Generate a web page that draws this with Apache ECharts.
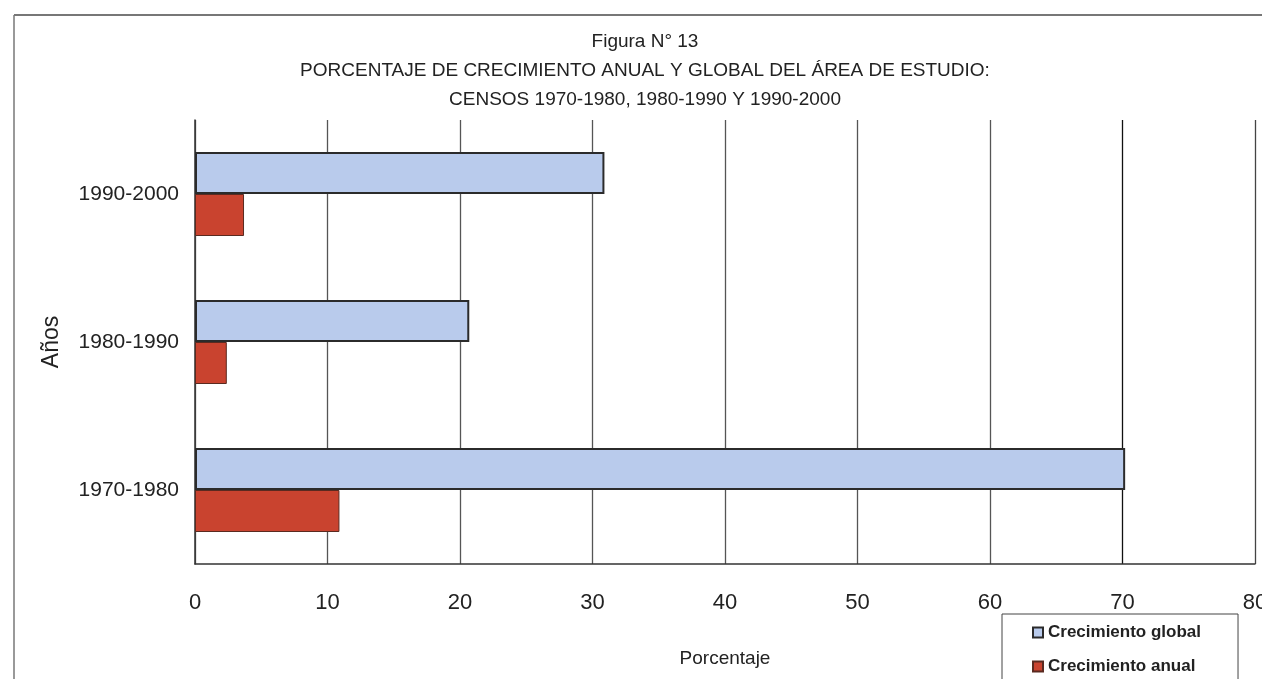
<!DOCTYPE html>
<html><head><meta charset="utf-8">
<script src="https://cdn.jsdelivr.net/npm/echarts@6/dist/echarts.min.js"></script>
<style>html,body{margin:0;padding:0;background:#fff;overflow:hidden}#c{width:1262px;height:679px}</style>
</head><body><div id="c"></div>
<script>
const categories = ['1970-1980', '1980-1990', '1990-2000'];
const crecimientoGlobal = [70.2, 20.7, 30.9];
const crecimientoAnual = [10.9, 2.4, 3.7];
const xTicks = [0, 10, 20, 30, 40, 50, 60, 70, 80];

const FONT = '"Liberation Sans", Arial, sans-serif';
const chart = echarts.init(document.getElementById('c'));
chart.setOption({
  backgroundColor: '#fff',
  animation: false,
  textStyle: { fontFamily: FONT, color: '#222' },
  title: {
    text: 'Figura N° 13\nPORCENTAJE DE CRECIMIENTO ANUAL Y GLOBAL DEL ÁREA DE ESTUDIO:\nCENSOS 1970-1980, 1980-1990 Y 1990-2000',
    left: 640, top: 22, textAlign: 'center',
    textStyle: { fontFamily: FONT, fontSize: 19, fontWeight: 'normal', color: '#222', lineHeight: 29 }
  },
  graphic: [
    { type: 'line', shape: { x1: 14, y1: 15, x2: 1262, y2: 15 }, style: { stroke: '#777', lineWidth: 2 } },
    { type: 'line', shape: { x1: 14, y1: 15, x2: 14, y2: 679 }, style: { stroke: '#777', lineWidth: 1.5 } }
  ],
  legend: {
    orient: 'vertical',
    left: 1002, top: 614, height: 120,
    padding: [10, 37, 20, 30],
    itemGap: 17,
    itemWidth: 10, itemHeight: 10,
    icon: 'rect',
    borderColor: '#444', borderWidth: 1,
    backgroundColor: '#fff',
    data: ['Crecimiento global', 'Crecimiento anual'],
    textStyle: { fontFamily: FONT, fontSize: 17, fontWeight: 'bold', color: '#222' }
  },
  grid: { left: 195, right: 7, top: 120, bottom: 115, outerBoundsMode: 'none', containLabel: false },
  xAxis: {
    type: 'value', min: 0, max: 80, interval: 10,
    name: 'Porcentaje', nameLocation: 'middle', nameGap: 85,
    nameTextStyle: { fontFamily: FONT, fontSize: 19, color: '#222' },
    axisLine: { show: true, lineStyle: { color: '#333', width: 1.5 } },
    axisTick: { show: false },
    axisLabel: { fontFamily: FONT, fontSize: 22, color: '#222', margin: 28,
      formatter: v => xTicks.includes(v) ? String(v) : '' },
    splitLine: { show: true, lineStyle: { color: ['#555', '#555', '#555', '#555', '#555', '#555', '#555', '#111', '#444'], width: 1.3 } }
  },
  yAxis: {
    type: 'category', data: categories,
    name: 'Años', nameLocation: 'middle', nameGap: 132, nameRotate: 90,
    nameTextStyle: { fontFamily: FONT, fontSize: 23, color: '#222' },
    axisLine: { show: true, lineStyle: { color: '#333', width: 1.5 } },
    axisTick: { show: false },
    axisLabel: { fontFamily: FONT, fontSize: 21, color: '#222', margin: 16 },
    splitLine: { show: false }
  },
  series: [
    {
      name: 'Crecimiento global', type: 'bar', data: crecimientoGlobal,
      barWidth: 42, barGap: '0%',
      itemStyle: { color: '#b9cbec', borderColor: '#2b2b2b', borderWidth: 2 }
    },
    {
      name: 'Crecimiento anual', type: 'bar', data: crecimientoAnual,
      barWidth: 42, barGap: '0%',
      itemStyle: { color: '#c9432f', borderColor: '#5a2a20', borderWidth: 1 }
    }
  ]
});
</script></body></html>
